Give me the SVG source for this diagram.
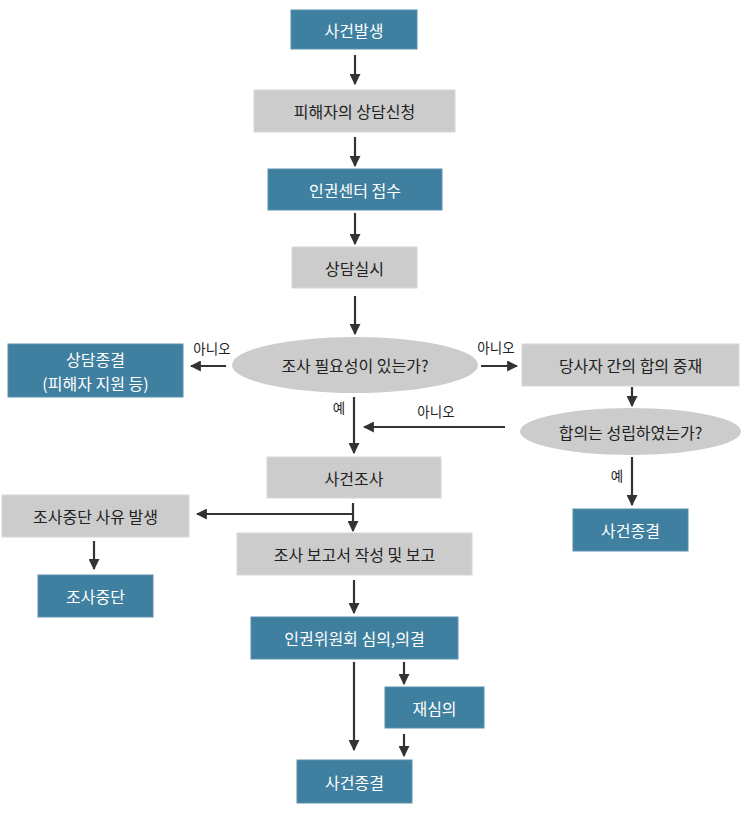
<svg xmlns="http://www.w3.org/2000/svg" width="744" height="814" viewBox="0 0 744 814">
<defs>
<style>
.b{fill:#3f7f9f;stroke:#5a92ae;stroke-width:1}
.g{fill:#cccccc;stroke:#d8d8d8;stroke-width:1}
.t{font-family:"Noto Sans CJK KR","Noto Sans",sans-serif;font-size:16px;text-anchor:middle;dominant-baseline:central}
.w{fill:#ffffff}
.k{fill:#222222}
.s{font-size:13.5px}
.c{stroke:#333333;stroke-width:2.2;fill:none}
</style>
<marker id="ah" viewBox="0 0 10 10" refX="9" refY="5" markerWidth="5" markerHeight="5" markerUnits="strokeWidth" orient="auto">
<path d="M0,0 L10,5 L0,10 Z" fill="#333333"/>
</marker>
</defs>
<rect width="744" height="814" fill="#ffffff"/>

<g id="connectors">
<line class="c" x1="355" y1="55" x2="355" y2="84" marker-end="url(#ah)"/>
<line class="c" x1="355" y1="137" x2="355" y2="166" marker-end="url(#ah)"/>
<line class="c" x1="355" y1="213" x2="355" y2="244" marker-end="url(#ah)"/>
<line class="c" x1="355" y1="296" x2="355" y2="334" marker-end="url(#ah)"/>
<line class="c" x1="226" y1="366" x2="191" y2="366" marker-end="url(#ah)"/>
<line class="c" x1="481" y1="366" x2="517" y2="366" marker-end="url(#ah)"/>
<line class="c" x1="354" y1="397" x2="354" y2="453" marker-end="url(#ah)"/>
<line class="c" x1="632" y1="387" x2="632" y2="406" marker-end="url(#ah)"/>
<line class="c" x1="505" y1="427" x2="364" y2="427" marker-end="url(#ah)"/>
<line class="c" x1="632" y1="457" x2="632" y2="505" marker-end="url(#ah)"/>
<line class="c" x1="353" y1="503" x2="353" y2="531" marker-end="url(#ah)"/>
<line class="c" x1="353" y1="514" x2="197" y2="514" marker-end="url(#ah)"/>
<line class="c" x1="94" y1="541" x2="94" y2="569" marker-end="url(#ah)"/>
<line class="c" x1="354" y1="580" x2="354" y2="613" marker-end="url(#ah)"/>
<line class="c" x1="354" y1="662" x2="354" y2="750" marker-end="url(#ah)"/>
<line class="c" x1="404" y1="662" x2="404" y2="684" marker-end="url(#ah)"/>
<line class="c" x1="404" y1="734" x2="404" y2="756" marker-end="url(#ah)"/>
<text class="t k s" x="212" y="348">아니오</text>
<text class="t k s" x="496" y="347">아니오</text>
<text class="t k s" x="436" y="411">아니오</text>
<text class="t k s" x="339" y="407">예</text>
<text class="t k s" x="617" y="475">예</text>
</g>

<g id="n1"><rect class="b" x="291" y="10" width="126" height="39"/><text class="t w" x="354" y="29.5">사건발생</text></g>
<g id="n2"><rect class="g" x="254" y="90" width="201" height="42"/><text class="t k" x="354.5" y="111">피해자의 상담신청</text></g>
<g id="n3"><rect class="b" x="268" y="169" width="174" height="41"/><text class="t w" x="355" y="189.5">인권센터 접수</text></g>
<g id="n4"><rect class="g" x="292" y="247" width="125" height="41"/><text class="t k" x="354.5" y="267.5">상담실시</text></g>
<g id="n5"><ellipse cx="355" cy="365" rx="123" ry="28" fill="#cccccc"/><text class="t k" x="355" y="365">조사 필요성이 있는가?</text></g>
<g id="n6"><rect class="b" x="8" y="344" width="175" height="53"/><text class="t w" x="95.5" y="359">상담종결</text><text class="t w" x="95.5" y="383" font-size="13.5">(피해자 지원 등)</text></g>
<g id="n7"><rect class="g" x="522" y="344" width="217" height="42"/><text class="t k" x="630.5" y="365">당사자 간의 합의 중재</text></g>
<g id="n8"><ellipse cx="630.5" cy="431.5" rx="110.5" ry="23.5" fill="#cccccc"/><text class="t k" x="630.5" y="431.5">합의는 성립하였는가?</text></g>
<g id="n9"><rect class="b" x="573" y="509" width="115" height="42"/><text class="t w" x="630.5" y="530">사건종결</text></g>
<g id="n10"><rect class="g" x="267" y="457" width="174" height="41"/><text class="t k" x="354" y="477.5">사건조사</text></g>
<g id="n11"><rect class="g" x="2" y="495" width="187" height="42"/><text class="t k" x="95.5" y="516">조사중단 사유 발생</text></g>
<g id="n12"><rect class="g" x="237" y="533" width="235" height="42"/><text class="t k" x="354.5" y="554">조사 보고서 작성 및 보고</text></g>
<g id="n13"><rect class="b" x="38" y="575" width="115" height="42"/><text class="t w" x="95.5" y="596">조사중단</text></g>
<g id="n14"><rect class="b" x="251" y="617" width="207" height="42"/><text class="t w" x="354.5" y="638">인권위원회 심의,의결</text></g>
<g id="n15"><rect class="b" x="385" y="687" width="99" height="41"/><text class="t w" x="434.5" y="707.5">재심의</text></g>
<g id="n16"><rect class="b" x="297" y="760" width="115" height="43"/><text class="t w" x="354.5" y="781.5">사건종결</text></g>
</svg>
